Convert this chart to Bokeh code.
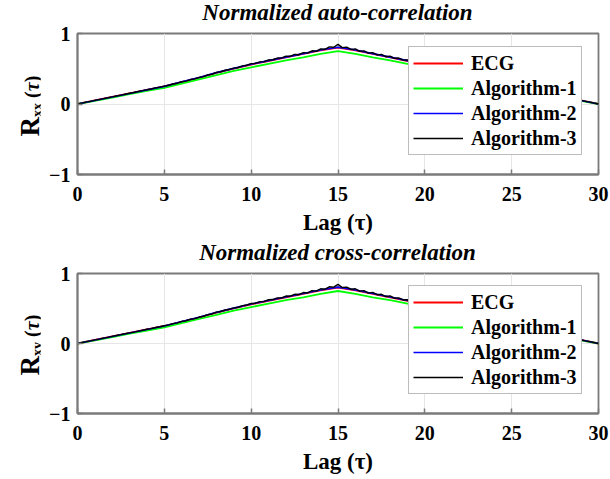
from bokeh.plotting import figure
from bokeh.models import Range1d, FixedTicker, Legend, LegendItem, Div
from bokeh.layouts import column, row
from bokeh.embed import file_html
from bokeh.resources import INLINE

# ---------------- data ----------------
lags = list(range(31))
ecg = [0.00, 0.05, 0.10, 0.15, 0.20, 0.25, 0.31, 0.37, 0.44, 0.50, 0.56, 0.61, 0.66, 0.71, 0.76, 0.80,
       0.76, 0.71, 0.66, 0.61, 0.56, 0.50, 0.44, 0.37, 0.31, 0.25, 0.20, 0.15, 0.10, 0.05, 0.00]
alg1 = [0.00, 0.045, 0.09, 0.14, 0.185, 0.23, 0.29, 0.35, 0.41, 0.47, 0.52, 0.57, 0.62, 0.66, 0.71, 0.75,
        0.71, 0.66, 0.62, 0.57, 0.52, 0.47, 0.41, 0.35, 0.29, 0.23, 0.185, 0.14, 0.09, 0.045, 0.00]
alg2 = [0.00, 0.05, 0.10, 0.15, 0.20, 0.25, 0.315, 0.375, 0.445, 0.505, 0.565, 0.615, 0.665, 0.715, 0.765, 0.805,
        0.765, 0.715, 0.665, 0.615, 0.565, 0.505, 0.445, 0.375, 0.315, 0.25, 0.20, 0.15, 0.10, 0.05, 0.00]
lags_fine = [i * 0.25 for i in range(121)]
alg3 = [0.000, 0.013, 0.026, 0.038, 0.051, 0.063, 0.077, 0.088, 0.101, 0.114, 0.126, 0.139,
        0.152, 0.163, 0.177, 0.189, 0.203, 0.213, 0.228, 0.239, 0.254, 0.266, 0.284, 0.295,
        0.316, 0.325, 0.347, 0.356, 0.378, 0.389, 0.413, 0.422, 0.448, 0.457, 0.479, 0.490,
        0.509, 0.518, 0.541, 0.550, 0.572, 0.576, 0.598, 0.601, 0.625, 0.628, 0.652, 0.650,
        0.678, 0.676, 0.703, 0.699, 0.728, 0.722, 0.755, 0.748, 0.782, 0.776, 0.810, 0.805,
        0.845, 0.800, 0.806, 0.775, 0.782, 0.748, 0.754, 0.720, 0.729, 0.697, 0.703, 0.671,
        0.679, 0.647, 0.652, 0.622, 0.625, 0.596, 0.598, 0.570, 0.572, 0.550, 0.541, 0.518,
        0.509, 0.490, 0.479, 0.457, 0.448, 0.422, 0.413, 0.389, 0.378, 0.356, 0.347, 0.325,
        0.316, 0.295, 0.284, 0.266, 0.254, 0.239, 0.228, 0.213, 0.203, 0.189, 0.177, 0.163,
        0.152, 0.139, 0.126, 0.114, 0.101, 0.088, 0.077, 0.063, 0.051, 0.038, 0.026, 0.013, 0.000]
x_ticks = [0, 5, 10, 15, 20, 25, 30]
y_ticks = [-1, 0, 1]
series_names = ["ECG", "Algorithm-1", "Algorithm-2", "Algorithm-3"]
series_colors = ["#ff0000", "#00ff00", "#0000ff", "#000000"]
titles = ["Normalized auto-correlation", "Normalized cross-correlation"]
subscripts = ["xx", "xy"]

FONT = "Liberation Serif"
FRAME = "#7a7a7a"


def make_plot(height):
    p = figure(width=570, height=height, output_backend="svg", toolbar_location=None,
               x_range=Range1d(0, 30), y_range=Range1d(-1, 1),
               min_border_left=37, min_border_right=12, min_border_top=12,
               min_border_bottom=66)
    p.outline_line_color = FRAME
    p.outline_line_width = 1.8

    for ax in (p.xaxis[0], p.yaxis[0]):
        ax.axis_line_color = FRAME
        ax.axis_line_width = 1.8
        ax.major_tick_line_color = FRAME
        ax.major_tick_line_width = 1.5
        ax.major_tick_in = 5
        ax.major_tick_out = 0
        ax.minor_tick_line_color = None
        ax.major_label_text_font = FONT
        ax.major_label_text_font_style = "bold"
        ax.major_label_text_font_size = "20px"
        ax.major_label_text_color = "#000000"
    p.xaxis.ticker = FixedTicker(ticks=x_ticks)
    p.yaxis.ticker = FixedTicker(ticks=y_ticks)
    p.xaxis.major_label_standoff = 12
    p.yaxis.major_label_standoff = 7
    p.xaxis.axis_label = "Lag (τ)"
    p.xaxis.axis_label_text_font = FONT
    p.xaxis.axis_label_text_font_style = "bold"
    p.xaxis.axis_label_text_font_size = "23px"
    p.xaxis.axis_label_text_color = "#000000"
    p.xaxis.axis_label_standoff = 6

    p.xgrid.ticker = FixedTicker(ticks=x_ticks)
    p.ygrid.ticker = FixedTicker(ticks=y_ticks)
    p.xgrid.grid_line_color = "#e6e6e6"
    p.ygrid.grid_line_color = "#e6e6e6"

    r_ecg = p.line(lags, ecg, line_color=series_colors[0], line_width=1.8)
    r_a1 = p.line(lags, alg1, line_color=series_colors[1], line_width=1.8)
    r_a2 = p.line(lags, alg2, line_color=series_colors[2], line_width=1.6)
    r_a3 = p.line(lags_fine, alg3, line_color=series_colors[3], line_width=1.4)

    items = [LegendItem(label=n, renderers=[r]) for n, r in
             zip(series_names, [r_ecg, r_a1, r_a2, r_a3])]
    leg = Legend(items=items, location=(331, 19), label_text_font=FONT,
                 label_text_font_style="bold", label_text_font_size="20px",
                 label_text_color="#000000", label_height=24, glyph_height=24,
                 glyph_width=50, label_standoff=8, spacing=1, padding=4, margin=0,
                 border_line_color="#7a7a7a", border_line_width=1.8,
                 background_fill_color="#ffffff", background_fill_alpha=1.0)
    p.add_layout(leg, "center")
    return p


def title_div(text):
    html = (
        '<div style="margin-left:77px; width:521px; height:21px; line-height:26px; '
        'text-align:center; white-space:nowrap; '
        "font-family:'Liberation Serif'; font-weight:bold; font-style:italic; "
        'font-size:23px; color:#000;">%s</div>' % text
    )
    return Div(text=html, width=610, height=21, margin=0)


def ylabel_div(sub, height, center_y):
    html = (
        '<div style="width:64px; height:24px; line-height:24px; margin-top:%dpx; margin-left:-2px; '
        'text-align:center; white-space:nowrap; transform:rotate(-90deg); '
        "font-family:'Liberation Serif'; font-weight:bold; font-size:27px; color:#000;\">"
        'R<sub style="font-size:14px; line-height:0; vertical-align:-3px;">%s</sub>'
        '<span style="font-size:20px;">&nbsp;(<i>τ</i>)</span></div>' % (center_y - 12, sub)
    )
    return Div(text=html, width=40, height=height, margin=0)


p1 = make_plot(219)
p2 = make_plot(218)

layout = column(
    title_div(titles[0]),
    row(ylabel_div(subscripts[0], 219, 85), p1, spacing=0),
    title_div(titles[1]),
    row(ylabel_div(subscripts[1], 218, 84), p2, spacing=0),
    spacing=0)
open("out.html", "w").write(file_html(layout, INLINE))
